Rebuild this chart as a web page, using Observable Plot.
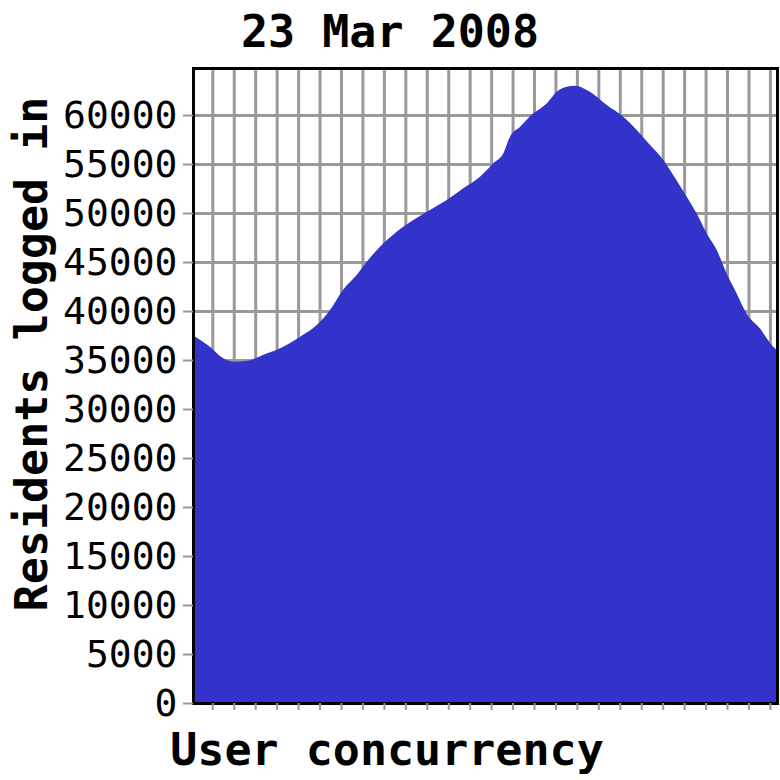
<!DOCTYPE html>
<html>
<head>
<meta charset="utf-8">
<script src="https://cdn.jsdelivr.net/npm/d3@7"></script>
<script src="https://cdn.jsdelivr.net/npm/@observablehq/plot@0.6"></script>
<style>
  html, body { margin: 0; padding: 0; background: #fff; }
  #wrap { width: 780px; height: 780px; overflow: hidden; font-family: "DejaVu Sans Mono", monospace; }
  .lbl { width: 780px; height: 60px; line-height: 60px; text-align: center; font-weight: bold; font-size: 45px; color: #000; position: relative; white-space: pre; }
  #title { top: 2px; }
  #xlabel { left: -3px; }
</style>
</head>
<body>
<div id="wrap">
  <div id="title" class="lbl"></div>
  <div id="chart"></div>
  <div id="xlabel" class="lbl"></div>
</div>
<script>
const titleText = "23 Mar 2008";
const xLabel = "User concurrency";
const yLabel = "Residents logged in";

// sample position (in grid-interval units) and residents logged in
const xs = [0.1, 0.89, 1.51, 1.97, 2.66, 3.36, 4.16, 5.09, 5.87, 6.49, 7.09, 7.73, 8.2, 8.82, 9.6, 10.37, 11.15, 11.93, 12.7, 13.48, 14.1, 14.57, 14.88, 15.35, 15.97, 16.59, 17.06, 17.52, 17.91, 18.61, 19.39, 20.16, 20.79, 21.41, 22.03, 22.49, 23.12, 23.58, 24.05, 24.52, 24.98, 25.45, 25.91, 26.53, 27.15, 27.33];
const residents = [37500, 36350, 35170, 34830, 34930, 35510, 36190, 37380, 38570, 40100, 42140, 43670, 45030, 46560, 48090, 49290, 50310, 51330, 52520, 53700, 55070, 56090, 57790, 58810, 60170, 61190, 62380, 62890, 63000, 62380, 61020, 59830, 58470, 56940, 55410, 53880, 51670, 49970, 47930, 46220, 43840, 41800, 39760, 38230, 36350, 36000];

const yTicks = [0, 5000, 10000, 15000, 20000, 25000, 30000, 35000, 40000, 45000, 50000, 55000, 60000];
const xGrid = [1,2,3,4,5,6,7,8,9,10,11,12,13,14,15,16,17,18,19,20,21,22,23,24,25,26,27];

const data = xs.map((x, i) => ({x, y: residents[i]}));

document.getElementById("title").textContent = titleText;
document.getElementById("xlabel").textContent = xLabel;

const chart = Plot.plot({
  width: 780,
  height: 660,
  marginTop: 8,
  marginBottom: 17,
  marginLeft: 193,
  marginRight: 3,
  style: {fontFamily: "DejaVu Sans Mono", overflow: "visible", background: "#fff"},
  x: {domain: [0.1, 27.33], axis: null},
  y: {domain: [0, 64800], axis: null},
  marks: [
    Plot.gridX(xGrid, {stroke: "#999", strokeWidth: 3, strokeOpacity: 1}),
    Plot.gridY(yTicks, {stroke: "#999", strokeWidth: 3, strokeOpacity: 1}),
    Plot.areaY(data, {x: "x", y: "y", fill: "#3333cc", curve: "monotone-x"}),
    Plot.frame({stroke: "#000", strokeWidth: 3}),
    Plot.axisX(xGrid, {tickSize: 7, tickFormat: () => "", stroke: "#999", strokeWidth: 2, label: null}),
    Plot.axisY(yTicks, {tickSize: 10, tickPadding: 6, fontSize: 38, stroke: "#999", strokeWidth: 2, fill: "#000", label: null, tickFormat: d => String(d)}),
    Plot.text([yLabel], {frameAnchor: "left", rotate: -90, dx: -161, dy: -32, fontSize: 45, fontWeight: "bold", fill: "#000", textAnchor: "middle"})
  ]
});
document.getElementById("chart").appendChild(chart);
</script>
</body>
</html>
